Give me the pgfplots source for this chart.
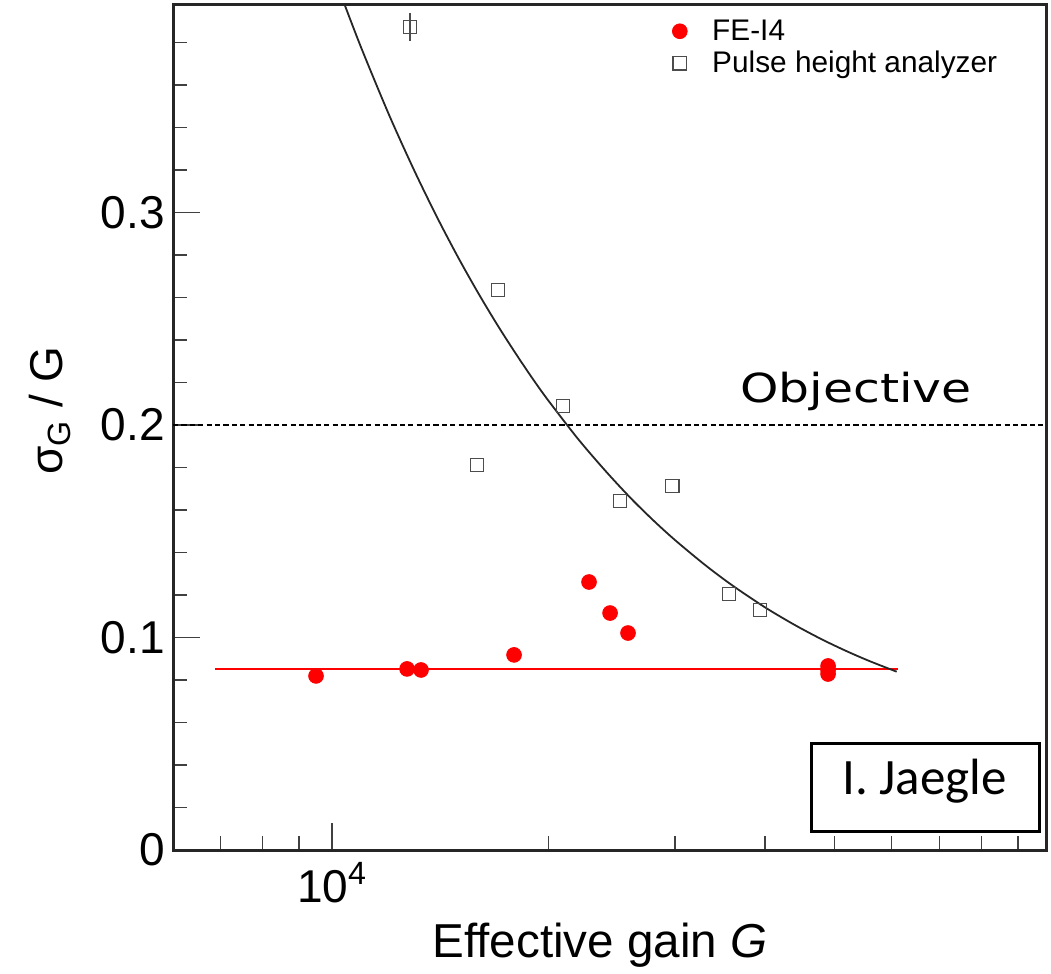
\documentclass[border=0pt]{standalone}
\usepackage{pgfplots}
\pgfplotsset{compat=1.18}
\usepackage{fontspec}
\setmainfont{Liberation Sans}
\newfontfamily\dejavu{DejaVu Sans}
\newfontfamily\carlito{Carlito}
\usepackage{graphicx}
\begin{document}
\begin{tikzpicture}
\begin{axis}[
  scale only axis,
  width=436.5bp, height=422.5bp,
  xmode=log,
  xmin=6010, xmax=98400,
  ymin=0, ymax=0.3976,
  clip mode=individual,
  axis line style={line width=1.5bp, black!85},
  tick style={line width=0.8bp, black!75},
  tick align=inside,
  tick pos=left,
  major tick length=13.5bp, minor tick length=7bp,
  xtick={10000}, xticklabels={10\textsuperscript{4}},
  minor xtick={7000,8000,9000,20000,30000,40000,50000,60000,70000,80000,90000},
  ytick={0,0.1,0.2,0.3}, yticklabels={0,0.1,0.2,0.3},
  minor ytick={0.02,0.04,0.06,0.08,0.12,0.14,0.16,0.18,0.22,0.24,0.26,0.28,0.32,0.34,0.36,0.38},
  ticklabel style={font=\fontsize{23bp}{27bp}\selectfont},
  yticklabel style={inner sep=0pt, xshift=-4bp},
  xticklabel style={inner sep=0pt, yshift=-6bp},
  legend cell align=left,
  legend style={at={(rel axis cs:0.5716,0.988)}, anchor=north west, draw=none, fill=none,
    font=\fontsize{14.9bp}{17bp}\selectfont, inner sep=0pt, row sep=0pt, column sep=10.5bp},
]
\addplot[black, dash pattern=on 2.6bp off 1.6bp, line width=1.2bp, forget plot]
  coordinates {(6010,0.2) (98400,0.2)};
\addplot[red, line width=0.7bp, forget plot]
  coordinates {(6877,0.0852) (61270,0.0852)};
\addplot[black!85, line width=0.9bp, smooth, forget plot] coordinates {
(10400,0.3982) (11000,0.3768) (12000,0.3460) (13000,0.3200) (14000,0.2977)
(15000,0.2784) (16000,0.2616) (17000,0.2468) (18000,0.2337) (19000,0.2219)
(20000,0.2114) (22000,0.1933) (24000,0.1784) (26000,0.1657) (28000,0.1550)
(30000,0.1458) (33000,0.1342) (36000,0.1246) (40000,0.1142) (44000,0.1059)
(48000,0.0991) (52000,0.0935) (56000,0.0888) (61000,0.0839)};
\addplot[only marks, mark=*, mark size=3.7bp, mark options={fill=red, draw=red}] coordinates {
(9500,0.0819) (12716,0.0852) (13297,0.0847) (17913,0.0918) (22773,0.1261)
(24360,0.1115) (25800,0.1021) (48960,0.0866) (48960,0.0847) (48960,0.0828)};
\addlegendentry{FE-I4}
\addplot[only marks, mark=square, mark size=3.3bp, draw=black!70, line width=0.75bp,
  error bars/.cd, y dir=both, y explicit, error mark=none,
  error bar style={line width=0.75bp, black!70}] coordinates {
(12840,0.3873) +- (0,0.0066)
(17020,0.2635) +- (0,0)
(20960,0.2089) +- (0,0)
(15910,0.1812) +- (0,0)
(25150,0.1642) +- (0,0)
(29720,0.1713) +- (0,0)
(35650,0.1205) +- (0,0)
(39390,0.1129) +- (0,0)};
\addlegendentry{Pulse height analyzer}
\node[anchor=base west, inner sep=0pt, font=\dejavu\fontsize{20bp}{23bp}\selectfont]
  at (axis cs:36940,0.2105) {\scalebox{1.22}[1]{Objective}};
\draw[line width=1.5bp] (rel axis cs:0.7316,0.0217) rectangle (rel axis cs:0.9923,0.1263);
\node[anchor=base, inner sep=0pt, font=\carlito\fontsize{25.5bp}{29bp}\selectfont]
  at (rel axis cs:0.861,0.0651) {I. Jaegle};
\node[anchor=center, inner sep=0pt, rotate=90, font=\fontsize{23bp}{27bp}\selectfont]
  at (rel axis cs:-0.141,0.52) {σ\textsubscript{G} / G};
\node[anchor=center, inner sep=0pt, font=\fontsize{23.8bp}{28bp}\selectfont]
  at (rel axis cs:0.4891,-0.1124) {Effective gain \textit{G}};
\end{axis}
\path (current axis.south west) ++(-86.5bp,-62bp) rectangle ++(525.5bp,487bp);
\end{tikzpicture}
\end{document}
